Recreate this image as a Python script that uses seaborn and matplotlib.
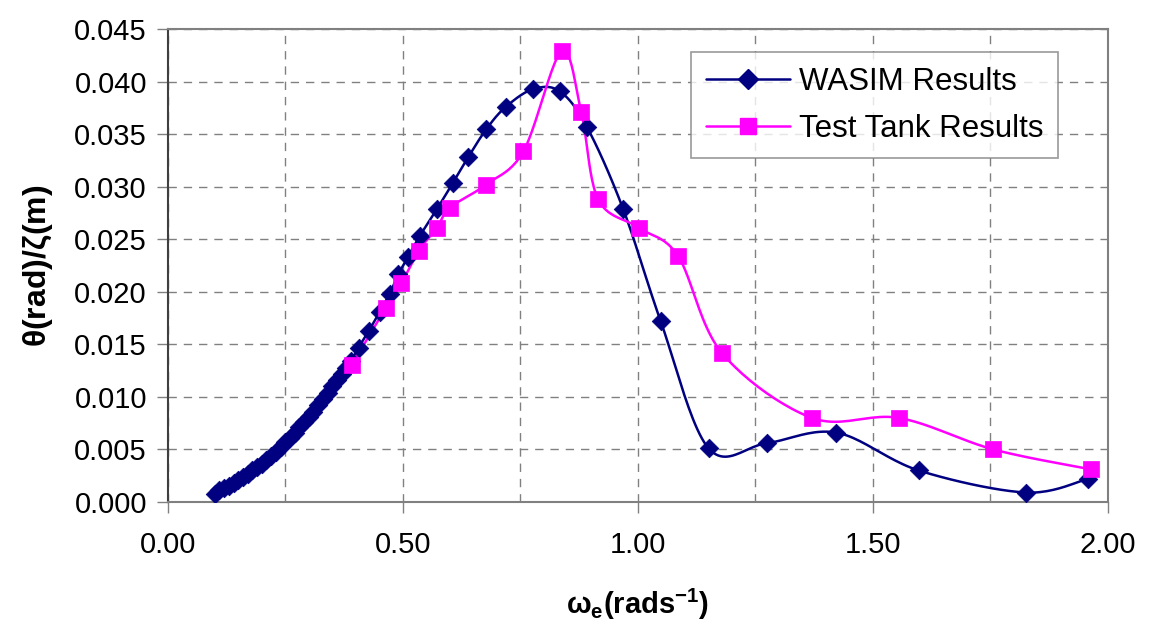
import numpy as np
import pandas as pd
import seaborn as sns
import matplotlib.pyplot as plt
from matplotlib.lines import Line2D
from matplotlib.ticker import MultipleLocator, FormatStrFormatter

# WASIM results (navy diamonds)
wasim_w = [0.10, 0.11, 0.12, 0.13, 0.14, 0.15, 0.16, 0.17, 0.18, 0.19,
           0.20, 0.21, 0.22, 0.23, 0.24, 0.25, 0.26, 0.27, 0.28, 0.29,
           0.30, 0.31, 0.32, 0.33, 0.34, 0.35, 0.36, 0.37, 0.38, 0.39,
           0.406, 0.428, 0.451, 0.472, 0.491, 0.511, 0.536, 0.573, 0.607,
           0.639, 0.678, 0.719, 0.777, 0.834, 0.892, 0.969, 1.049, 1.151,
           1.275, 1.423, 1.598, 1.826, 1.958]
wasim_theta = [0.0008, 0.0011, 0.0013, 0.0015, 0.0018, 0.0021, 0.0024, 0.0027, 0.0030, 0.0033,
               0.0036, 0.0040, 0.0044, 0.0048, 0.0052, 0.0057, 0.0061, 0.0066, 0.0071, 0.0076,
               0.0081, 0.0086, 0.0092, 0.0098, 0.0104, 0.0110, 0.0116, 0.0122, 0.0128, 0.0134,
               0.0147, 0.0163, 0.0181, 0.0198, 0.0217, 0.0233, 0.0253, 0.0279, 0.0304,
               0.0328, 0.0355, 0.0376, 0.0393, 0.0391, 0.0357, 0.0279, 0.0172, 0.0051,
               0.0056, 0.0066, 0.0030, 0.0009, 0.0022]

# Test tank results (magenta squares)
tank_w = [0.391, 0.464, 0.497, 0.534, 0.573, 0.600, 0.677, 0.757, 0.838, 0.880,
          0.916, 1.003, 1.086, 1.179, 1.371, 1.556, 1.757, 1.965]
tank_theta = [0.0130, 0.0185, 0.0208, 0.0239, 0.0261, 0.0280, 0.0302, 0.0334, 0.0429, 0.0371,
              0.0288, 0.0261, 0.0234, 0.0142, 0.0080, 0.0080, 0.0050, 0.0031]

NAVY = '#000080'
MAGENTA = '#FF00FF'


def smooth_curve(x, y, n=24):
    # excel style smoothed line: bezier through the points, done in screen-like units
    sx, sy = 940 / 2.0, 473 / 0.045
    P = np.column_stack([np.asarray(x) * sx, np.asarray(y) * sy])
    P = np.vstack([P[0], P, P[-1]])
    t = np.linspace(0, 1, n)[:, None]
    segs = []
    for i in range(1, len(P) - 2):
        p0, p1, p2, p3 = P[i - 1], P[i], P[i + 1], P[i + 2]
        c1 = p1 + (p2 - p0) / 6
        c2 = p2 - (p3 - p1) / 6
        segs.append((1 - t) ** 3 * p1 + 3 * (1 - t) ** 2 * t * c1
                    + 3 * (1 - t) * t ** 2 * c2 + t ** 3 * p2)
    out = np.vstack(segs)
    return pd.DataFrame({'w': out[:, 0] / sx, 'theta': out[:, 1] / sy})


sns.set_theme(style='white')
plt.rcParams['font.family'] = ['Liberation Sans', 'DejaVu Sans']
plt.rcParams['mathtext.default'] = 'regular'
plt.rcParams['text.color'] = 'black'
plt.rcParams['axes.labelcolor'] = 'black'
plt.rcParams['xtick.color'] = 'black'
plt.rcParams['ytick.color'] = 'black'

fig, ax = plt.subplots(figsize=(11.49, 6.37), dpi=100)
fig.subplots_adjust(left=0.146, right=0.964, bottom=0.212, top=0.954)

df_wasim = pd.DataFrame({'w': wasim_w, 'theta': wasim_theta})
df_tank = pd.DataFrame({'w': tank_w, 'theta': tank_theta})

sns.lineplot(data=smooth_curve(wasim_w, wasim_theta), x='w', y='theta', sort=False,
             estimator=None, color=NAVY, lw=1.8, ax=ax, zorder=3)
sns.lineplot(data=smooth_curve(tank_w, tank_theta), x='w', y='theta', sort=False,
             estimator=None, color=MAGENTA, lw=1.8, ax=ax, zorder=3)
sns.scatterplot(data=df_wasim, x='w', y='theta', marker='D', s=90, color=NAVY,
                edgecolor=NAVY, linewidth=0.5, ax=ax, zorder=4)
sns.scatterplot(data=df_tank, x='w', y='theta', marker='s', s=130, color=MAGENTA,
                edgecolor=MAGENTA, linewidth=0.5, ax=ax, zorder=5)

ax.set_xlim(0, 2.0)
ax.set_ylim(0, 0.045)
ax.xaxis.set_major_locator(MultipleLocator(0.5))
ax.xaxis.set_minor_locator(MultipleLocator(0.25))
ax.yaxis.set_major_locator(MultipleLocator(0.005))
ax.xaxis.set_major_formatter(FormatStrFormatter('%.2f'))
ax.yaxis.set_major_formatter(FormatStrFormatter('%.3f'))

ax.grid(True, which='both', color='#808080', linestyle=(0, (6, 5)), lw=1.0)
ax.tick_params(axis='both', which='major', labelsize=21, direction='out',
               length=8, width=1, color='#808080', pad=7, left=True, bottom=True)
ax.tick_params(axis='x', which='minor', length=0)
ax.tick_params(axis='x', pad=13)
for side in ['left', 'right', 'top', 'bottom']:
    ax.spines[side].set_color('#808080')
    ax.spines[side].set_linewidth(1.5)
ax.spines['left'].set_color('#404040')

ax.set_xlabel(r'$\omega_e$(rads$^{-1}$)', fontsize=21, fontweight='bold', labelpad=20)
ax.set_ylabel(r'$\theta$(rad)/$\zeta$(m)', fontsize=23, fontweight='bold', labelpad=14)

handles = [Line2D([], [], color=NAVY, lw=1.8, marker='D', markersize=10),
           Line2D([], [], color=MAGENTA, lw=1.8, marker='s', markersize=12)]
leg = ax.legend(handles, ['WASIM Results', 'Test Tank Results'], loc='upper right',
                bbox_to_anchor=(0.947, 0.951), fontsize=22.5, frameon=True, fancybox=False,
                handlelength=2.7, handletextpad=0.3, labelspacing=0.55, borderpad=0.45,
                borderaxespad=0)
leg.get_frame().set_edgecolor('#808080')
leg.get_frame().set_linewidth(1.2)

fig.savefig('out.png', dpi=100)
